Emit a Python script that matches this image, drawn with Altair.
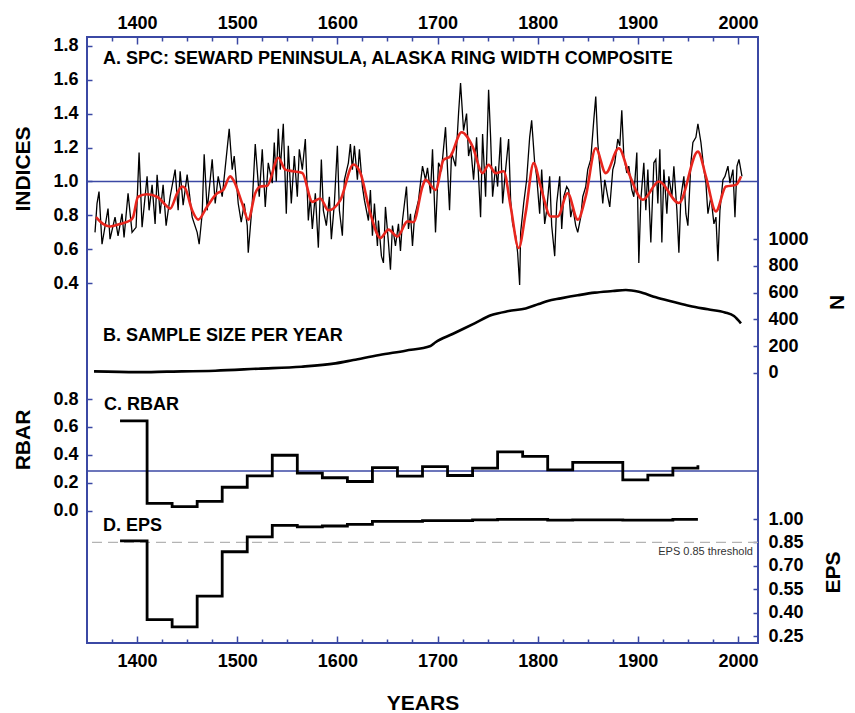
import altair as alt
import pandas as pd

# ---------------- data ----------------
idx_years = [1358, 1360, 1362, 1365, 1371, 1373, 1378, 1381, 1385, 1387, 1391, 1395, 1399,
             1402, 1405, 1410, 1412, 1415, 1418, 1420, 1423, 1426, 1429, 1433, 1438, 1441,
             1443, 1446, 1450, 1455, 1460, 1462, 1465, 1467, 1470, 1475, 1478, 1481, 1485,
             1488, 1492, 1495, 1497, 1501, 1504, 1507, 1510, 1511, 1515, 1518, 1522, 1525,
             1528, 1531, 1535, 1537, 1539, 1541, 1543, 1546, 1549, 1551, 1554, 1557, 1560,
             1562, 1565, 1568, 1571, 1573, 1575, 1578, 1581, 1584, 1586, 1589, 1592, 1594,
             1597, 1600, 1602, 1605, 1607, 1611, 1613, 1615, 1617, 1620, 1622, 1625, 1627,
             1631, 1633, 1635, 1637, 1640, 1641, 1644, 1646, 1648, 1651, 1653, 1655, 1658,
             1661, 1663, 1665, 1669, 1671, 1673, 1675, 1677, 1681, 1685, 1688, 1690, 1693,
             1695, 1698, 1701, 1704, 1708, 1710, 1712, 1714, 1718, 1721, 1723, 1726, 1729,
             1731, 1733, 1736, 1739, 1743, 1745, 1748, 1751, 1753, 1755, 1758, 1760, 1763,
             1765, 1768, 1771, 1773, 1775, 1778, 1780, 1782, 1783, 1786, 1789, 1792, 1794,
             1797, 1799, 1802, 1804, 1807, 1809, 1812, 1814, 1817, 1819, 1822, 1824, 1826,
             1829, 1831, 1833, 1835, 1838, 1840, 1843, 1845, 1848, 1850, 1853, 1856, 1858,
             1860, 1862, 1865, 1867, 1870, 1872, 1875, 1877, 1880, 1882, 1884, 1886, 1889,
             1891, 1894, 1896, 1899, 1901, 1903, 1906, 1908, 1910, 1913, 1916, 1918, 1920,
             1922, 1924, 1926, 1929, 1931, 1934, 1936, 1939, 1941, 1943, 1946, 1948, 1950,
             1953, 1955, 1958, 1960, 1963, 1966, 1968, 1970, 1973, 1976, 1978, 1980, 1982,
             1985, 1987, 1990, 1992, 1995, 1997, 1999, 2001, 2004]
idx_values = [0.70, 0.87, 0.94, 0.63, 0.84, 0.66, 0.79, 0.68, 0.81, 0.67, 0.93, 0.70, 0.73,
              1.17, 0.73, 1.03, 0.83, 0.98, 0.75, 1.04, 0.81, 0.98, 0.74, 0.91, 1.07, 0.83,
              1.06, 0.86, 1.04, 0.79, 0.70, 0.63, 0.81, 1.16, 0.83, 1.13, 0.87, 1.03, 0.91,
              1.08, 1.31, 1.07, 1.15, 0.87, 0.76, 0.87, 0.74, 0.58, 0.87, 1.22, 0.91, 1.19,
              0.85, 1.11, 0.99, 1.23, 1.00, 1.31, 1.07, 1.34, 0.81, 1.21, 0.87, 1.15, 0.91,
              1.19, 1.07, 1.25, 0.77, 0.91, 0.72, 0.93, 0.61, 1.13, 0.83, 0.74, 0.91, 0.66,
              0.87, 1.21, 0.83, 0.68, 1.01, 1.11, 1.22, 1.07, 1.21, 1.01, 1.19, 0.97, 0.89,
              0.77, 0.95, 0.68, 0.87, 0.62, 0.77, 0.56, 0.52, 0.85, 0.64, 0.48, 0.74, 0.62,
              0.75, 0.59, 0.77, 0.97, 0.72, 0.81, 0.62, 0.79, 0.89, 1.09, 1.01, 1.08, 0.93,
              1.19, 0.70, 1.11, 1.07, 1.32, 1.07, 0.83, 1.17, 1.09, 1.40, 1.58, 1.30, 1.40,
              1.15, 1.21, 1.01, 1.26, 0.79, 1.28, 0.91, 1.54, 1.26, 0.91, 1.09, 0.97, 1.26,
              0.87, 1.07, 1.25, 0.89, 0.75, 0.68, 0.58, 0.39, 0.70, 0.87, 1.01, 1.26, 1.36,
              1.11, 1.03, 0.81, 1.07, 0.75, 0.83, 1.03, 0.74, 0.56, 0.87, 1.03, 0.72, 0.91,
              0.97, 0.95, 0.79, 0.85, 0.74, 0.70, 0.79, 0.91, 0.97, 1.07, 1.13, 1.36, 1.50,
              1.23, 1.09, 0.87, 1.01, 0.91, 0.85, 1.07, 1.11, 1.25, 1.21, 1.42, 1.15, 1.05,
              1.09, 0.95, 0.91, 1.17, 0.52, 0.89, 1.11, 0.83, 1.07, 0.64, 1.11, 1.13, 0.87,
              1.19, 0.64, 1.07, 0.81, 1.03, 0.91, 1.09, 0.83, 0.58, 0.91, 1.03, 0.81, 0.74,
              1.11, 1.23, 1.26, 1.34, 1.23, 1.07, 0.99, 0.81, 0.91, 0.75, 0.79, 0.53, 0.83,
              1.01, 1.03, 1.09, 0.99, 1.07, 0.79, 1.09, 1.13, 1.03]

smooth_years = [1359, 1366, 1373, 1383, 1393, 1396, 1401, 1410, 1420, 1430, 1433, 1440, 1445,
                1448, 1455, 1461, 1470, 1480, 1486, 1493, 1496, 1505, 1511, 1518, 1523, 1530,
                1541, 1548, 1556, 1565, 1575, 1583, 1591, 1603, 1616, 1623, 1633, 1643, 1651,
                1660, 1670, 1676, 1685, 1688, 1698, 1706, 1713, 1724, 1735, 1745, 1751, 1758,
                1766, 1773, 1781, 1788, 1796, 1803, 1813, 1820, 1830, 1840, 1848, 1858, 1868,
                1881, 1891, 1905, 1921, 1941, 1960, 1968, 1978, 1988, 1998, 2003]
smooth_values = [0.79, 0.75, 0.735, 0.75, 0.77, 0.79, 0.91, 0.925, 0.91, 0.853, 0.84, 0.93, 0.97,
                 0.96, 0.83, 0.775, 0.853, 0.93, 0.95, 1.03, 1.01, 0.87, 0.775, 0.93, 0.97, 0.975,
                 1.14, 1.07, 1.06, 1.05, 0.88, 0.90, 0.83, 0.89, 1.10, 1.05, 0.81, 0.667, 0.716,
                 0.676, 0.765, 0.76, 0.97, 1.01, 0.95, 1.127, 1.15, 1.29, 1.206, 1.049, 1.098,
                 1.049, 1.06, 0.853, 0.608, 0.814, 1.108, 0.97, 0.794, 0.794, 0.931, 0.775,
                 0.912, 1.196, 1.049, 1.196, 1.049, 0.892, 1.0, 0.873, 1.176, 1.029, 0.824,
                 0.97, 0.98, 1.03]

n_years = [1357, 1400, 1430, 1478, 1521, 1564, 1598, 1616, 1642, 1668, 1693, 1698, 1715, 1737,
           1754, 1771, 1788, 1801, 1810, 1823, 1840, 1857, 1875, 1888, 1901, 1918, 1935, 1952,
           1970, 1987, 1996, 2003]
n_values = [10, 4, 8, 15, 30, 45, 70, 95, 132, 165, 200, 228, 290, 370, 432, 462, 482, 515,
            538, 557, 580, 600, 612, 620, 607, 565, 532, 500, 475, 452, 425, 370]

win_years = [1383, 1410, 1435, 1460, 1485, 1510, 1535, 1560, 1585, 1610, 1635, 1660, 1685,
             1710, 1735, 1760, 1785, 1810, 1835, 1860, 1885, 1910, 1935, 1960]
rbar_values = [0.644, 0.053, 0.029, 0.067, 0.168, 0.25, 0.397, 0.269, 0.236, 0.209, 0.308,
               0.248, 0.315, 0.252, 0.305, 0.421, 0.389, 0.293, 0.346, 0.346, 0.221, 0.255,
               0.305, 0.325]
eps_values = [0.86, 0.355, 0.308, 0.505, 0.79, 0.886, 0.959, 0.949, 0.955, 0.966, 0.985,
              0.985, 0.99, 0.99, 0.995, 0.997, 0.997, 0.993, 0.995, 0.995, 0.993, 0.993,
              0.997, 0.997]

indices_ref = [1.0]
rbar_mean = [0.284]
eps_threshold = [0.85]

major_years = [1400, 1500, 1600, 1700, 1800, 1900, 2000]
minor_years = [y for y in range(1375, 2001, 25) if y % 100 != 0]
indices_ticks = [0.4, 0.6, 0.8, 1.0, 1.2, 1.4, 1.6, 1.8]
n_ticks = [0, 200, 400, 600, 800, 1000]
rbar_ticks = [0.0, 0.2, 0.4, 0.6, 0.8]
eps_ticks = [0.25, 0.40, 0.55, 0.70, 0.85, 1.00]

# ---------------- styling ----------------
BLUE = "#3B48A4"
RED = "#E8261E"
FONT = "Liberation Sans"

idx_df = pd.DataFrame({"year": idx_years, "value": idx_values})
sm_df = pd.DataFrame({"year": smooth_years, "value": smooth_values})
n_df = pd.DataFrame({"year": n_years, "n": n_values})
st_df = pd.DataFrame({"year": win_years, "rbar": rbar_values, "eps": eps_values})

XS = alt.Scale(domain=[1350, 2020], nice=False, zero=False)
S_IDX = alt.Scale(domain=[0.4, 1.8], range=[246.3, 8.7], nice=False, zero=False)
S_N = alt.Scale(domain=[0, 1000], range=[335.7, 202.3], nice=False, zero=False)
S_RBAR = alt.Scale(domain=[0.0, 0.8], range=[473.7, 362.0], nice=False, zero=False)
S_EPS = alt.Scale(domain=[0.25, 1.0], range=[599.0, 482.0], nice=False, zero=False)


def x_axis(orient, values, major):
    if major:
        return alt.Axis(orient=orient, values=values, format="d", tickSize=7, offset=-7,
                        labelPadding=9 if orient == "bottom" else 5, title=None)
    return alt.Axis(orient=orient, values=values, labels=False, tickSize=4, offset=-4,
                    title=None)


def y_axis(orient, values, fmt):
    return alt.Axis(orient=orient, values=values, format=fmt, tickSize=5, offset=-5,
                    labelPadding=9 if orient == "left" else 10, title=None,
                    labelOverlap=False)


black = alt.Chart(idx_df).mark_line(color="black", strokeWidth=1.3).encode(
    x=alt.X("year:Q", scale=XS, axis=x_axis("bottom", major_years, True)),
    y=alt.Y("value:Q", scale=S_IDX, axis=y_axis("left", indices_ticks, ".1f")),
)
red = alt.Chart(sm_df).mark_line(color=RED, strokeWidth=2.6, interpolate="monotone").encode(
    x=alt.X("year:Q", scale=XS, axis=x_axis("top", major_years, True)),
    y=alt.Y("value:Q", scale=S_IDX, axis=None),
)
ref1 = alt.Chart(pd.DataFrame({"v": indices_ref})).mark_rule(color=BLUE, strokeWidth=1.5).encode(
    y=alt.Y("v:Q", scale=S_IDX, axis=None)
)
nline = alt.Chart(n_df).mark_line(color="black", strokeWidth=2.6, interpolate="monotone").encode(
    x=alt.X("year:Q", scale=XS, axis=x_axis("top", minor_years, False)),
    y=alt.Y("n:Q", scale=S_N, axis=y_axis("right", n_ticks, "d")),
)
rbar = alt.Chart(st_df).mark_line(color="black", strokeWidth=2.8, interpolate="step-after").encode(
    x=alt.X("year:Q", scale=XS, axis=x_axis("bottom", minor_years, False)),
    y=alt.Y("rbar:Q", scale=S_RBAR, axis=y_axis("left", rbar_ticks, ".1f")),
)
rbar_ref = alt.Chart(pd.DataFrame({"v": rbar_mean})).mark_rule(color=BLUE, strokeWidth=1.5).encode(
    y=alt.Y("v:Q", scale=S_RBAR, axis=None)
)
eps = alt.Chart(st_df).mark_line(color="black", strokeWidth=2.8, interpolate="step-after").encode(
    x=alt.X("year:Q", scale=XS, axis=None),
    y=alt.Y("eps:Q", scale=S_EPS, axis=y_axis("right", eps_ticks, ".2f")),
)
eps_ref = alt.Chart(pd.DataFrame({"v": eps_threshold})).mark_rule(
    color="#B4B4B4", strokeWidth=1.4, strokeDash=[10, 6]).encode(
    y=alt.Y("v:Q", scale=S_EPS, axis=None)
)


def label(txt, x, y, size=18, align="left", baseline="alphabetic", angle=0, weight="bold",
          color="black"):
    return alt.Chart(pd.DataFrame({"t": [txt]})).mark_text(
        align=align, baseline=baseline, angle=angle, font=FONT, fontSize=size,
        fontWeight=weight, color=color).encode(
        text="t:N", x=alt.value(x), y=alt.value(y))


texts = [
    label("A. SPC: SEWARD PENINSULA, ALASKA RING WIDTH COMPOSITE", 16, 27),
    label("B. SAMPLE SIZE PER YEAR", 16, 303.7),
    label("C. RBAR", 17, 373),
    label("D. EPS", 16, 493.7),
    label("EPS 0.85 threshold", 666, 515.3, size=11, align="right", baseline="middle",
          weight="normal", color="#333333"),
    label("INDICES", -63, 132, size=21, align="center", baseline="middle", angle=270),
    label("RBAR", -63, 403, size=21, align="center", baseline="middle", angle=270),
    label("N", 751, 265.5, size=21, align="center", baseline="middle", angle=270),
    label("EPS", 747, 535.5, size=21, align="center", baseline="middle", angle=270),
    label("YEARS", 336, 667, size=21, align="center", baseline="middle"),
]

chart = alt.layer(
    ref1, rbar_ref, eps_ref, black, red, nline, rbar, eps, *texts
).resolve_scale(y="independent").resolve_axis(x="independent", y="independent").properties(
    width=671, height=606,
    padding={"left": 87, "top": 37, "right": 97, "bottom": 70},
    autosize=alt.AutoSizeParams(type="none"),
    background="white",
).configure_view(
    stroke=BLUE, strokeWidth=2
).configure_axis(
    grid=False, domain=False, labelFont=FONT, labelFontSize=18, labelFontWeight="bold",
    labelColor="black", tickColor=BLUE, tickWidth=1.5,
)

chart.save("out.html", embed_options={"renderer": "svg", "actions": False})
